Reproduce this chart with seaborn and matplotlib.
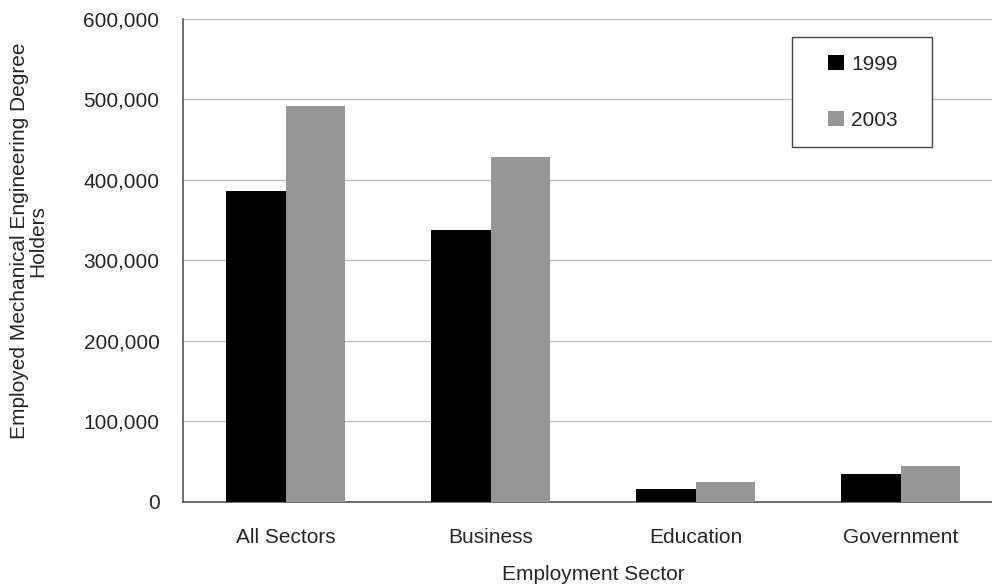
import pandas as pd
import seaborn as sns
import matplotlib.pyplot as plt
from matplotlib.patches import Rectangle
from matplotlib.ticker import FuncFormatter, FixedLocator

# Data
sectors = ['All Sectors', 'Business', 'Education', 'Government']
years = ['1999', '2003']
values_1999 = [386000, 338000, 16000, 34000]
values_2003 = [492000, 428000, 24000, 44000]

df = pd.DataFrame({
    'Sector': sectors * 2,
    'Year': [years[0]] * len(sectors) + [years[1]] * len(sectors),
    'Holders': values_1999 + values_2003,
})

sns.set_style('white')
plt.rcParams['font.family'] = ['Liberation Sans', 'DejaVu Sans']
fs = 15

fig = plt.figure(figsize=(9.92, 5.88), dpi=100)
# axes run a little past the right edge, as in the reference
ax = fig.add_axes([0.1845, 0.147, 0.8266, 0.8206])

sns.barplot(ax=ax, data=df, x='Sector', y='Holders', hue='Year',
            palette={'1999': '#000000', '2003': '#969696'},
            width=0.576, saturation=1, edgecolor='none', zorder=3)

ax.set_ylim(0, 600000)
ax.set_xlim(-0.5, 3.5)
ax.set_yticks(range(0, 600001, 100000))
ax.yaxis.set_major_formatter(FuncFormatter(lambda v, p: f'{int(v):,}'))
ax.grid(axis='y', color='#c0c0c0', linewidth=1, zorder=0)
ax.set_axisbelow(True)

# x ticks: labels centered, tick marks at category boundaries
ax.tick_params(axis='x', which='major', length=0, labelsize=fs, pad=19)
ax.xaxis.set_minor_locator(FixedLocator([-0.5, 0.5, 1.5, 2.5, 3.5]))
ax.tick_params(axis='x', which='minor', length=6, width=1, color='#555555', direction='out')
ax.tick_params(axis='y', length=5, width=1, color='#555555', direction='out', labelsize=fs, pad=12)

for s in ['top', 'right']:
    ax.spines[s].set_visible(False)
for s in ['left', 'bottom']:
    ax.spines[s].set_color('#555555')
    ax.spines[s].set_linewidth(1.2)

ax.set_xlabel('Employment Sector', fontsize=fs, labelpad=13)
ax.set_ylabel('Employed Mechanical Engineering Degree\nHolders', fontsize=fs, linespacing=1.0)
ax.yaxis.set_label_coords(-0.165, 0.54)

# legend box drawn separately so its size matches the reference
box = Rectangle((0.798, 0.75), 0.1411, 0.187, transform=fig.transFigure,
                facecolor='white', edgecolor='#444444', linewidth=1, zorder=5)
ax.add_patch(box)
leg = ax.legend(loc='center', bbox_to_anchor=(0.870, 0.843), bbox_transform=fig.transFigure,
                frameon=False, fontsize=fs, handlelength=0.75, handleheight=0.75,
                handletextpad=0.35, labelspacing=1.75, borderpad=0)
leg.set_title(None)
leg.set_zorder(6)

fig.savefig('out.png', dpi=100)
